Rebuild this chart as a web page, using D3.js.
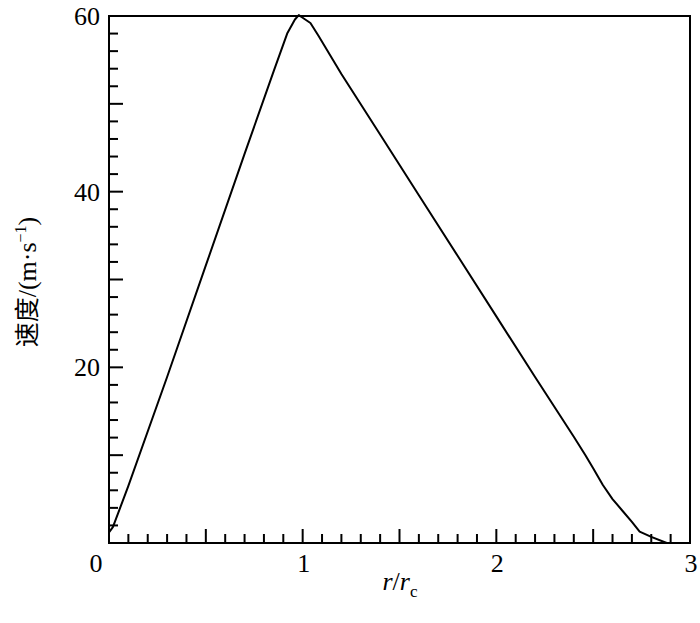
<!DOCTYPE html>
<html>
<head>
<meta charset="utf-8">
<script src="https://cdn.jsdelivr.net/npm/d3@7"></script>
<style>
  body { margin: 0; background: #fff; }
  text { font-family: "Liberation Serif", "Noto Sans CJK SC", serif; fill: #000; }
</style>
</head>
<body>
<svg id="chart" width="700" height="623"></svg>
<script>
// radius ratio r/rc and speed (m/s)
const rRatio = [0, 0.02, 0.1, 0.3, 0.5, 0.7, 0.85, 0.92, 0.96, 0.98, 1.0, 1.04, 1.08,
                1.2, 1.4, 1.6, 1.8, 2.0, 2.2, 2.4, 2.46, 2.5, 2.55, 2.6, 2.65, 2.7, 2.74, 2.8, 2.88];
const speed  = [1.2, 1.8, 6.5, 18.9, 31.6, 44.3, 53.7, 58.0, 59.6, 60.1, 59.8, 59.2, 57.8,
                53.4, 46.5, 39.6, 32.7, 25.8, 18.9, 12.1, 10.0, 8.5, 6.6, 5.0, 3.7, 2.4, 1.3, 0.7, 0];
const xTickLabels = [0, 1, 2, 3];
const yTickLabels = [20, 40, 60];

const svg = d3.select("#chart");
const mLeft = 109, mRight = 690, mTop = 16, mBottom = 543;

const x = d3.scaleLinear().domain([0, 3]).range([mLeft, mRight]);
const y = d3.scaleLinear().domain([0, 60]).range([mBottom, mTop]);

// minor ticks every 0.1 / 2, longer ones every 0.5 / 10
const xTicks = d3.range(1, 30).map(i => i / 10);
const yTicks = d3.range(1, 30).map(i => i * 2);

svg.selectAll(".xt").data(xTicks).enter().append("line")
    .attr("x1", d => x(d)).attr("x2", d => x(d))
    .attr("y1", mBottom)
    .attr("y2", (d, i) => (i + 1) % 5 === 0 ? mBottom - 14 : mBottom - 9)
    .attr("stroke", "#000").attr("stroke-width", 2);

svg.selectAll(".yt").data(yTicks).enter().append("line")
    .attr("x1", mLeft)
    .attr("x2", (d, i) => (i + 1) % 5 === 0 ? mLeft + 14 : mLeft + 9)
    .attr("y1", d => y(d)).attr("y2", d => y(d))
    .attr("stroke", "#000").attr("stroke-width", 2);

// frame
svg.append("rect")
    .attr("x", mLeft).attr("y", mTop)
    .attr("width", mRight - mLeft).attr("height", mBottom - mTop)
    .attr("fill", "none").attr("stroke", "#000").attr("stroke-width", 2);

// curve
const line = d3.line().x(d => x(d[0])).y(d => y(d[1]));
svg.append("path")
    .datum(rRatio.map((r, i) => [r, speed[i]]))
    .attr("d", line)
    .attr("fill", "none").attr("stroke", "#000").attr("stroke-width", 2)
    .attr("stroke-linejoin", "round");

// tick labels
svg.selectAll(".xl").data(xTickLabels).enter().append("text")
    .attr("x", d => x(d) + (d === 0 ? -13 : 1))
    .attr("y", mBottom + 29)
    .attr("text-anchor", "middle")
    .attr("font-size", "26px")
    .text(d => d);

svg.selectAll(".yl").data(yTickLabels).enter().append("text")
    .attr("x", mLeft - 9)
    .attr("y", d => y(d) + 9)
    .attr("text-anchor", "end")
    .attr("font-size", "26px")
    .text(d => d);

// axis titles
const xt = svg.append("text")
    .attr("x", 400).attr("y", 590)
    .attr("text-anchor", "middle")
    .attr("font-size", "26px");
xt.append("tspan").attr("font-style", "italic").text("r");
xt.append("tspan").text("/");
xt.append("tspan").attr("font-style", "italic").text("r");
xt.append("tspan").attr("font-size", "17px").attr("dy", 7).text("c");

const yt = svg.append("text")
    .attr("transform", "translate(36,282) rotate(-90)")
    .attr("text-anchor", "middle")
    .attr("font-size", "26px");
yt.append("tspan").attr("font-family", "Noto Sans CJK SC").attr("font-size", "25px").text("速度");
yt.append("tspan").text("/(m·s");
yt.append("tspan").attr("font-size", "16px").attr("dy", -10).text("−1");
yt.append("tspan").attr("dy", 10).text(")");
</script>
</body>
</html>
